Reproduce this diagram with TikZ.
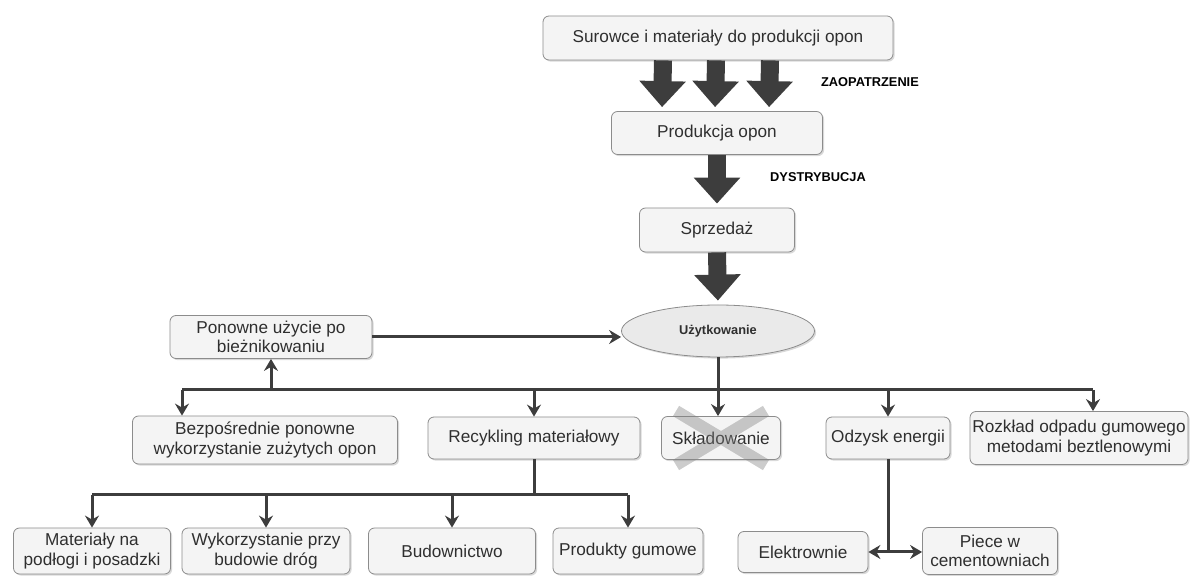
\documentclass[tikz,border=0pt]{standalone}
\usepackage{fontspec}
\setmainfont{Liberation Sans}
\usetikzlibrary{arrows.meta, shapes.geometric, shadows, positioning}
\definecolor{boxfill}{HTML}{F4F4F4}
\definecolor{boxline}{HTML}{8C8C8C}
\definecolor{txt}{HTML}{2F2F2F}
\definecolor{dark}{HTML}{3D3D3D}

\begin{document}
\begin{tikzpicture}[x=0.5pt, y=-0.5pt,
    b/.style={draw=boxline, fill=boxfill, rounded corners=3pt, text=txt, inner sep=0pt, align=center,
      font=\fontsize{8.6}{9.6}\selectfont,
      drop shadow={shadow xshift=0.8pt, shadow yshift=-0.8pt, opacity=0.3, fill=gray}},
    lab/.style={text=black, font=\fontsize{6.4}{7.5}\selectfont\bfseries},
    big/.style={draw=dark, line width=9pt, -{Triangle[length=13pt, width=22.5pt]}, shorten >=2pt},
    ln/.style={draw=dark, line width=1.5pt},
    ar/.style={ln, -{Stealth[length=6pt, width=7pt, inset=2pt]}}]
        \useasboundingbox (0,0) rectangle (1195,576);

        % upper part
        \draw node[b, minimum width=175pt, minimum height=22pt] (sur) at (718,38) {Surowce i materiały do produkcji opon}
        node[b, minimum width=105.5pt, minimum height=21.5pt] (prod) at (717,133) {Produkcja opon}
        node[b, minimum width=77.5pt, minimum height=22pt] (sprz) at (717,230) {Sprzedaż}
        node[b, ellipse, fill=boxfill!96!black, minimum width=96.5pt, minimum height=26pt,
          font=\fontsize{6.4}{7.5}\selectfont\bfseries] (uzyt) at (718,331) {Użytkowanie};

        \draw node[lab] (zaop) at (870,82) {ZAOPATRZENIE}
        node[lab] (dyst) at (818,177) {DYSTRYBUCJA};

        % second level
        \draw node[b, minimum width=101pt, minimum height=21.5pt] (pon) at (271,337) {Ponowne użycie po\\bieżnikowaniu}
        node[b, minimum width=132.5pt, minimum height=24pt] (bezp) at (265,440) {Bezpośrednie ponowne\\wykorzystanie zużytych opon}
        node[b, minimum width=106pt, minimum height=21pt] (recy) at (534,438) {Recykling materiałowy}
        node[b, minimum width=59.5pt, minimum height=21.5pt] (skla) at (721,438) {Składowanie}
        node[b, minimum width=62pt, minimum height=21pt] (odz) at (888,438) {Odzysk energii}
        node[b, minimum width=109pt, minimum height=26.5pt] (rozk) at (1079,438) {Rozkład odpadu gumowego\\metodami beztlenowymi};

        % bottom level
        \draw node[b, minimum width=78.5pt, minimum height=23pt] (mat) at (92,551) {Materiały na\\podłogi i posadzki}
        node[b, minimum width=84pt, minimum height=23pt] (wyk) at (266,551) {Wykorzystanie przy\\budowie dróg}
        node[b, minimum width=83.5pt, minimum height=23pt] (bud) at (452,551) {Budownictwo}
        node[b, minimum width=75pt, minimum height=23pt] (prd) at (628,551) {Produkty gumowe}
        node[b, minimum width=65pt, minimum height=20.5pt] (elek) at (803,552) {Elektrownie}
        node[b, minimum width=67.5pt, minimum height=23.5pt] (piec) at (990,551) {Piece w\\cementowniach};

        % big arrows
        \foreach \dx in {-55,-2,52}
          \draw[big] ([xshift=\dx*0.5pt]sur.south) -- ([xshift=\dx*0.5pt]prod.north);
        \draw[big] (prod.south) -- (sprz.north);
        \draw[big] (sprz.south) -- (uzyt.north);

        % crossed out
        \draw[gray, opacity=0.4, line width=6pt] ([shift={(-45,-27)}]skla.center) -- ([shift={(45,27)}]skla.center)
        ([shift={(-45,27)}]skla.center) -- ([shift={(45,-27)}]skla.center);

        % connectors
        \coordinate (bus) at (718,390);
        \coordinate (busL) at (182,390);
        \coordinate (busR) at (1093,390);
        \coordinate (bus2) at (533,495);

        \draw[ar] (pon.east) -- (uzyt.west |- pon.east);
        \draw[ln] (busL) -- (busR);
        \draw[ar] (uzyt.south) -- (uzyt.south |- skla.north);
        \draw[ar] (busL) -- (busL |- bezp.north);
        \draw[ar] (pon.south |- bus) -- (pon.south);
        \draw[ar] (recy.north |- bus) -- (recy.north);
        \draw[ar] (odz.north |- bus) -- (odz.north);
        \draw[ar] (busR) -- (busR |- rozk.north);

        \draw[ln] (recy.south) -- (recy.south |- bus2);
        \draw[ln] (mat.north |- bus2) -- (prd.north |- bus2);
        \foreach \t in {mat, wyk, bud, prd}
          \draw[ar] (\t.north |- bus2) -- (\t.north);

        \draw[ln] (odz.south) -- (odz.south |- elek.east);
        \draw[ar] (odz.south |- elek.east) -- (elek.east);
        \draw[ar] (odz.south |- elek.east) -- (piec.west |- elek.east);
\end{tikzpicture}
\end{document}
